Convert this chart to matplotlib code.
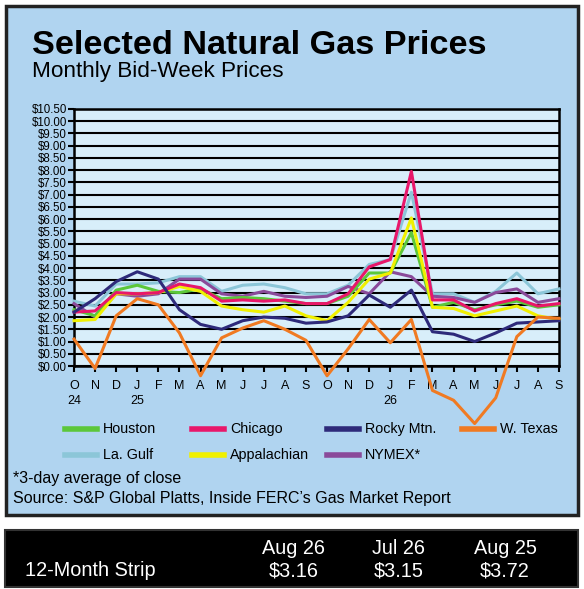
import matplotlib
matplotlib.use("Agg")
import matplotlib.pyplot as plt
from matplotlib.patches import Rectangle
from matplotlib.lines import Line2D

months = ["O","N","D","J","F","M","A","M","J","J","A","S","O","N","D","J","F","M","A","M","J","J","A","S"]
years = {0: "24", 3: "25", 15: "26"}
yticks = [i * 0.5 for i in range(22)]

houston = [2.3,2.05,3.1,3.3,3.05,3.0,3.15,2.75,2.8,2.75,2.65,2.55,2.55,2.85,3.8,3.8,5.45,2.4,2.6,2.3,2.5,2.65,2.4,2.5]
chicago = [2.2,2.25,3.0,2.95,3.0,3.35,3.2,2.65,2.7,2.65,2.7,2.55,2.55,2.95,4.05,4.35,7.95,2.7,2.7,2.25,2.55,2.75,2.45,2.55]
rocky = [2.2,2.75,3.45,3.85,3.55,2.3,1.7,1.5,1.85,2.0,1.95,1.75,1.8,2.05,2.9,2.4,3.1,1.4,1.3,1.0,1.35,1.75,1.8,1.85]
wtexas = [1.1,-0.1,2.05,2.75,2.5,1.35,-0.4,1.15,1.55,1.85,1.5,1.05,-0.4,0.7,1.9,0.95,1.9,-1.0,-1.4,-2.35,-1.3,1.2,2.0,1.95]
lagulf = [2.65,2.45,3.35,3.35,3.4,3.65,3.65,3.05,3.3,3.35,3.2,2.95,2.95,3.3,4.15,4.35,7.1,2.95,2.95,2.6,3.05,3.8,2.95,3.15]
appal = [1.85,1.9,2.95,2.95,3.0,3.25,3.05,2.45,2.3,2.2,2.45,2.05,1.85,2.6,3.55,3.8,6.05,2.4,2.35,2.05,2.25,2.45,2.05,1.9]
nymex = [2.55,2.0,2.95,2.85,2.95,3.55,3.55,2.95,2.85,3.05,2.85,2.8,2.85,3.25,2.95,3.85,3.65,2.85,2.8,2.6,3.0,3.15,2.6,2.75]

strip_labels = ["Aug 26", "Jul 26", "Aug 25"]
strip_values = ["$3.16", "$3.15", "$3.72"]

series = [
    ("La. Gulf", lagulf, "#8cc6d8"),
    ("NYMEX*", nymex, "#8a4a9a"),
    ("Houston", houston, "#5cc73a"),
    ("Appalachian", appal, "#f0f000"),
    ("Chicago", chicago, "#e8176a"),
    ("Rocky Mtn.", rocky, "#2e2a7a"),
    ("W. Texas", wtexas, "#f07a22"),
]
colors = {n: c for n, _, c in series}

W, H = 584, 589
fig = plt.figure(figsize=(W/100, H/100), dpi=100)
fig.patch.set_facecolor("white")
def fx(x): return x / W
def fy(y): return 1 - y / H

fig.add_artist(Rectangle((fx(6), fy(515)), fx(572), 509/H, transform=fig.transFigure,
                         facecolor="#b0d4f0", edgecolor="#222222", lw=2.5, zorder=-5))
fig.add_artist(Rectangle((fx(5), fy(587)), fx(573), 57/H, transform=fig.transFigure,
                         facecolor="black", edgecolor="#333333", lw=1.5, zorder=-5))

fig.text(fx(32), fy(45), "Selected Natural Gas Prices", fontsize=24.7, fontweight="heavy",
         family="Liberation Sans", va="center", ha="left")
fig.text(fx(32), fy(71), "Monthly Bid-Week Prices", fontsize=16.2, family="Liberation Sans",
         va="center", ha="left")

ax = fig.add_axes([fx(74), fy(366), fx(559-74), (366-109)/H])
ax.set_zorder(2)
ax.set_facecolor("#d8eefa")
x = list(range(len(months)))
for name, vals, c in series:
    ax.plot(x, vals, color=c, lw=2.2, clip_on=False, zorder=3)
ax.set_xlim(0, len(months) - 1)
ax.set_ylim(0, 10.5)
ax.set_yticks(yticks)
ax.set_yticklabels([f"${v:.2f}" for v in yticks], fontsize=8.3, family="Liberation Sans")
ax.yaxis.grid(True, color="black", lw=1.5)
ax.set_axisbelow(True)
ax.set_xticks(x)
ax.set_xticklabels(months, fontsize=9, family="Liberation Sans")
ax.tick_params(axis="y", length=4, width=1.5, pad=1)
ax.tick_params(axis="x", length=4, width=1.5, pad=6)
for s in ax.spines.values():
    s.set_linewidth(1.8)
for i, yl in years.items():
    ax.text(i, -1.2, yl, ha="center", va="top", fontsize=9, family="Liberation Sans")

legend_rows = [["Houston", "Chicago", "Rocky Mtn.", "W. Texas"], ["La. Gulf", "Appalachian", "NYMEX*"]]
colx = [65, 192, 327, 462]
rowy = [429, 455]
for r, names in enumerate(legend_rows):
    for cidx, n in enumerate(names):
        fig.add_artist(Line2D([fx(colx[cidx]), fx(colx[cidx] + 32)], [fy(rowy[r])] * 2,
                              transform=fig.transFigure, color=colors[n], lw=4, zorder=3))
        fig.text(fx(colx[cidx] + 38), fy(rowy[r]), n, fontsize=10.3, family="Liberation Sans",
                 va="center", ha="left")

fig.text(fx(13), fy(479), "*3-day average of close", fontsize=11.5, family="Liberation Sans", va="center")
fig.text(fx(13), fy(498), "Source: S&P Global Platts, Inside FERC\u2019s Gas Market Report", fontsize=11.5,
         family="Liberation Sans", va="center")

fig.text(fx(25), fy(571), "12-Month Strip", fontsize=14.3, color="white", family="Liberation Sans", va="center")
for cx, lab, val in zip([294, 399, 505], strip_labels, strip_values):
    fig.text(fx(cx), fy(548), lab, fontsize=14.3, color="white", family="Liberation Sans", va="center", ha="center")
    fig.text(fx(cx), fy(571), val, fontsize=14.3, color="white", family="Liberation Sans", va="center", ha="center")

fig.savefig("out.png", dpi=100, facecolor=fig.get_facecolor())
